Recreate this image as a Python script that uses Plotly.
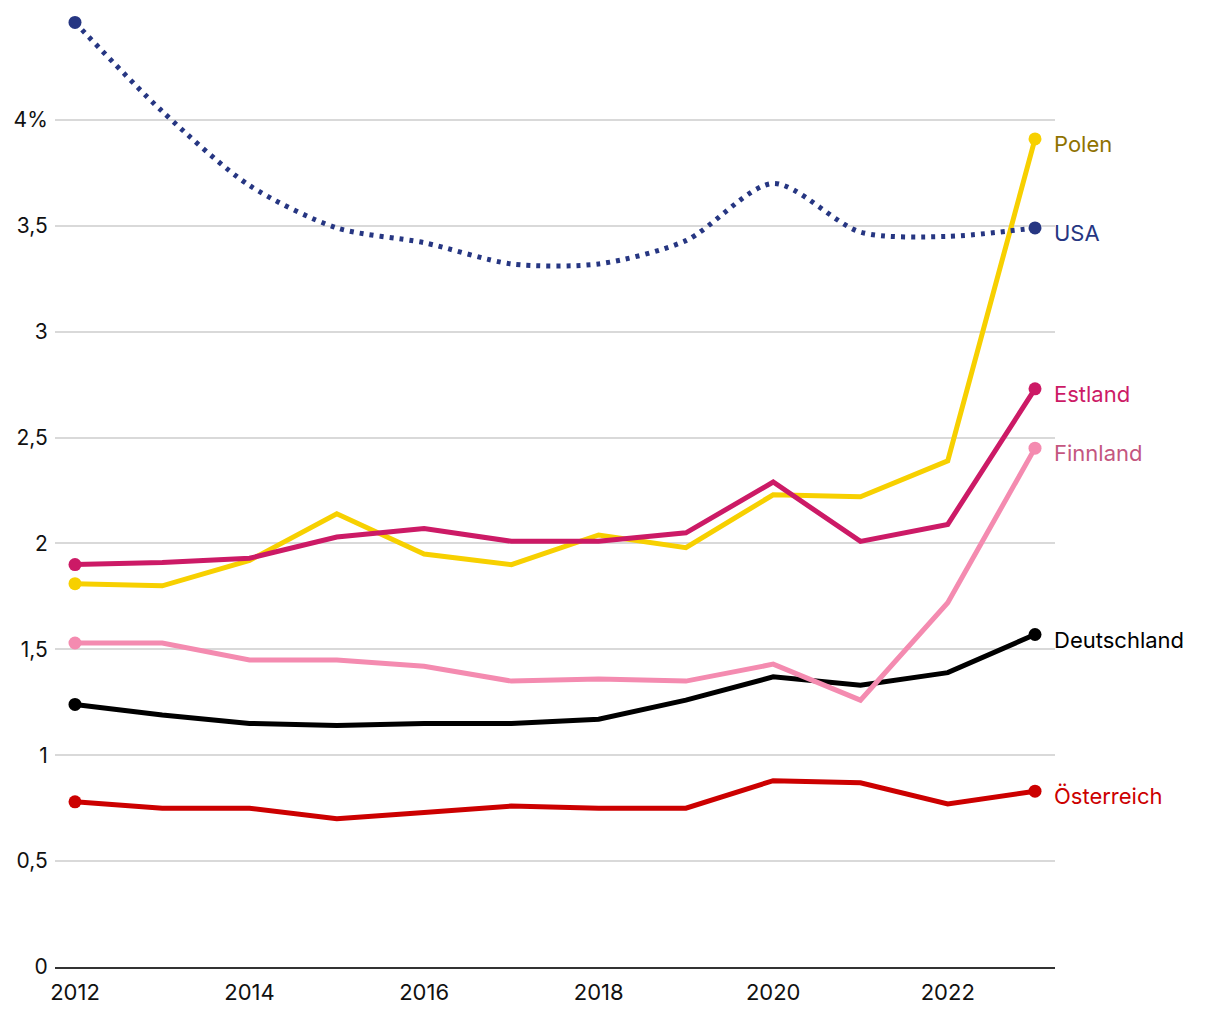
import plotly.graph_objects as go

years = [2012, 2013, 2014, 2015, 2016, 2017, 2018, 2019, 2020, 2021, 2022, 2023]

usa = [4.46, 4.04, 3.69, 3.49, 3.42, 3.32, 3.32, 3.43, 3.70, 3.47, 3.45, 3.49]
polen = [1.81, 1.80, 1.92, 2.14, 1.95, 1.90, 2.04, 1.98, 2.23, 2.22, 2.39, 3.91]
estland = [1.90, 1.91, 1.93, 2.03, 2.07, 2.01, 2.01, 2.05, 2.29, 2.01, 2.09, 2.73]
finnland = [1.53, 1.53, 1.45, 1.45, 1.42, 1.35, 1.36, 1.35, 1.43, 1.26, 1.72, 2.45]
deutschland = [1.24, 1.19, 1.15, 1.14, 1.15, 1.15, 1.17, 1.26, 1.37, 1.33, 1.39, 1.57]
oesterreich = [0.78, 0.75, 0.75, 0.70, 0.73, 0.76, 0.75, 0.75, 0.88, 0.87, 0.77, 0.83]

y_tickvals = [0, 0.5, 1, 1.5, 2, 2.5, 3, 3.5, 4]
y_ticktext = ["0", "0,5", "1", "1,5", "2", "2,5", "3", "3,5", "4%"]
x_tickvals = [2012, 2014, 2016, 2018, 2020, 2022]

series = [
    # name, values, line colour, label colour, dash, shape
    ("Österreich", oesterreich, "#cc0000", "#cc0000", "solid", "linear"),
    ("Deutschland", deutschland, "#000000", "#000000", "solid", "linear"),
    ("Finnland", finnland, "#f48bb0", "#c4567f", "solid", "linear"),
    ("Polen", polen, "#f7d000", "#8f7200", "solid", "linear"),
    ("Estland", estland, "#cc1a66", "#cc1a66", "solid", "linear"),
    ("USA", usa, "#263682", "#263682", "4px,6px", "spline"),
]

FONT = "Inter, Roboto, sans-serif"

fig = go.Figure()
for name, vals, lc, tc, dash, shape in series:
    fig.add_trace(go.Scatter(
        x=years, y=vals, mode="lines", name=name,
        line=dict(color=lc, width=5, dash=dash, shape=shape, smoothing=0.8),
        hoverinfo="skip", showlegend=False,
    ))
    fig.add_trace(go.Scatter(
        x=[years[0], years[-1]], y=[vals[0], vals[-1]], mode="markers",
        marker=dict(color=lc, size=13), hoverinfo="skip", showlegend=False,
    ))
    fig.add_annotation(
        x=years[-1], y=vals[-1], text=name, showarrow=False,
        xanchor="left", yanchor="middle", xshift=17, yshift=-5,
        font=dict(family=FONT, size=22, color=tc),
    )

fig.update_layout(
    width=1204, height=1004,
    margin=dict(l=47, r=157, t=6, b=45),
    paper_bgcolor="white", plot_bgcolor="white",
    font=dict(family=FONT, size=22, color="#111111"),
    xaxis=dict(
        range=[2011.771, 2023.229], tickvals=x_tickvals,
        showgrid=False, zeroline=False, automargin=False,
        showline=True, linecolor="#333333", linewidth=2,
        ticks="outside", ticklen=0, ticklabelstandoff=5,
        tickfont=dict(family=FONT, size=22, color="#111111"),
    ),
    yaxis=dict(
        range=[0, 4.5], tickvals=y_tickvals, ticktext=y_ticktext,
        showgrid=True, gridcolor="#d9d9d9", gridwidth=1.5,
        zeroline=False, showline=False, automargin=False,
        ticks="outside", ticklen=0, ticklabelstandoff=2,
        tickfont=dict(family=FONT, size=21, color="#111111"),
    ),
)

fig.write_html("out.html")
